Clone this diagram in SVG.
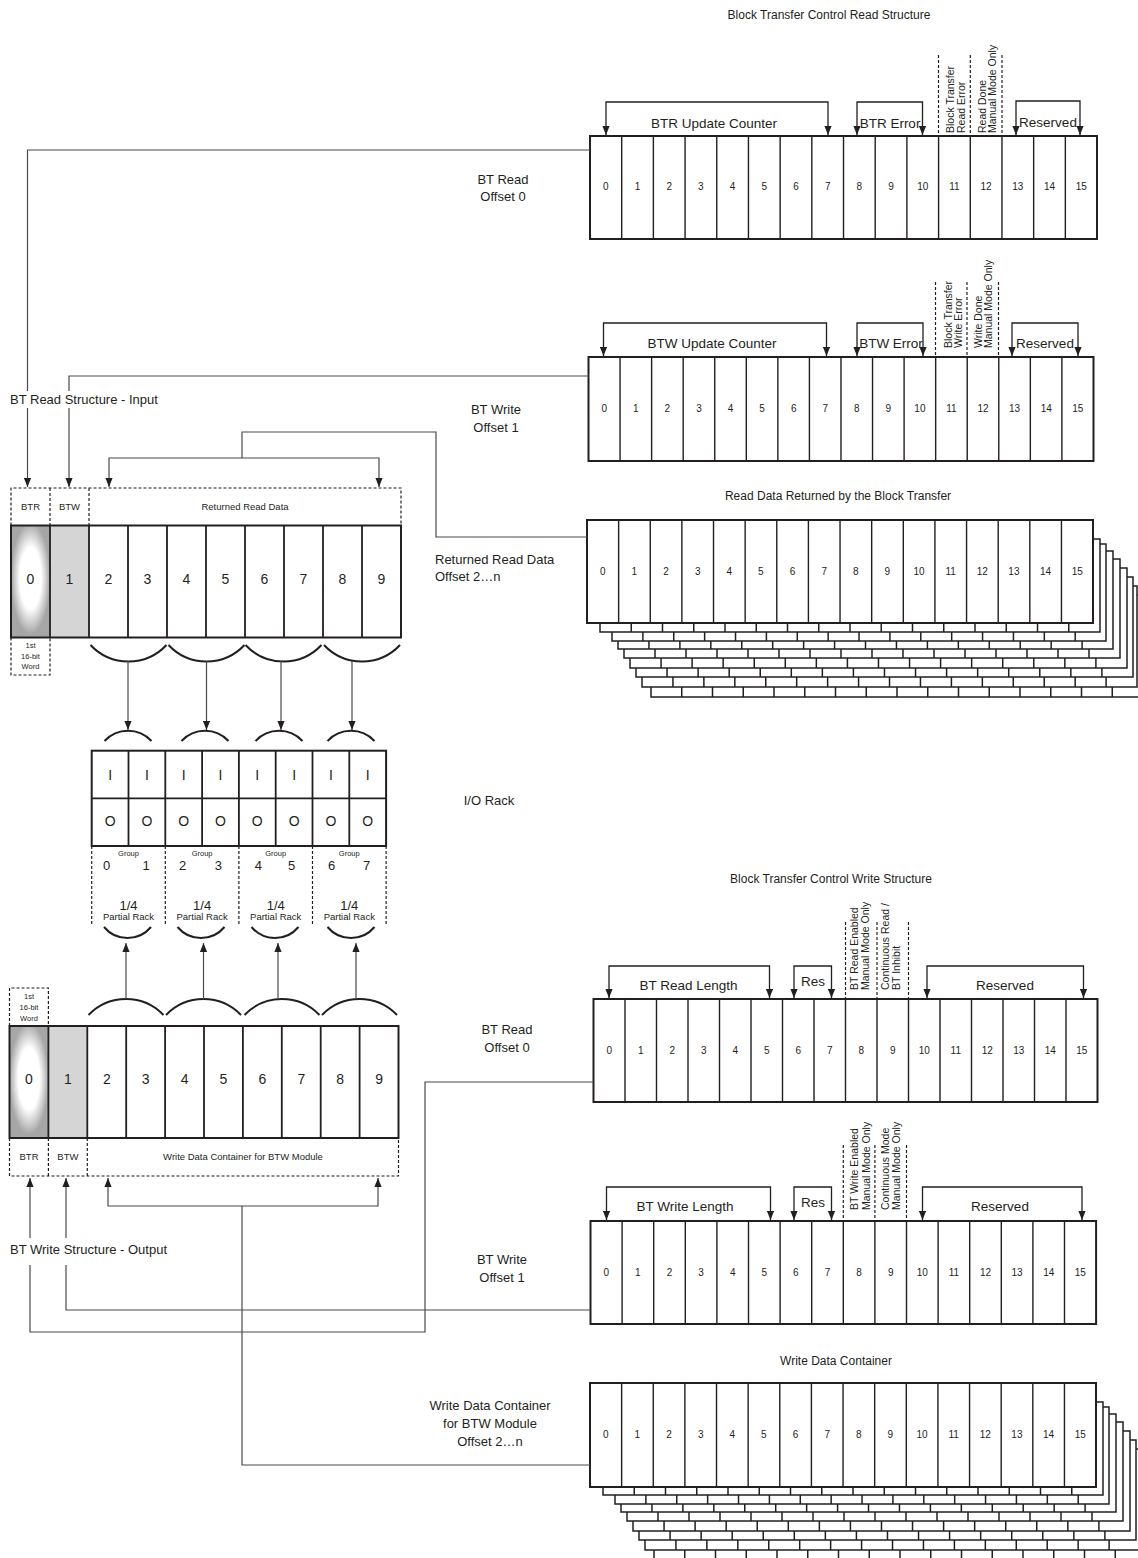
<svg xmlns="http://www.w3.org/2000/svg" width="1138" height="1558" viewBox="0 0 1138 1558">
<defs>
<style>
text{font-family:"Liberation Sans",Arial,sans-serif;fill:#231f20}
.reg{fill:#fff;stroke:#231f20;stroke-width:2}
.ro{fill:none;stroke:#231f20;stroke-width:2}
.dv{fill:none;stroke:#231f20;stroke-width:1.4}
.dvl{fill:none;stroke:#231f20;stroke-width:1.8}
.lay{fill:#fff;stroke:#231f20;stroke-width:1.5}
.dot{fill:none;stroke:#231f20;stroke-width:1.2;stroke-dasharray:3 2}
.con{fill:none;stroke:#4a4a4a;stroke-width:1.2}
.brk{fill:none;stroke:#231f20;stroke-width:1.3}
.arc{fill:none;stroke:#231f20;stroke-width:2}
.n10{font-size:10px;text-anchor:middle}
.n14{font-size:14px;text-anchor:middle}
.lbl{font-size:13px}
.mid{text-anchor:middle}
.ttl{font-size:12px;text-anchor:middle}
.bl{font-size:13.5px;text-anchor:middle}
.rot{font-size:10.5px}
.sm{font-size:9.5px;text-anchor:middle}
.xs{font-size:7.5px;text-anchor:middle}
.g13{font-size:13px;text-anchor:middle}
</style>
<marker id="ah" viewBox="0 0 10 8" refX="10" refY="4" markerWidth="9" markerHeight="7.2" markerUnits="userSpaceOnUse" orient="auto-start-reverse"><path d="M0,0L10,4L0,8z" fill="#231f20"/></marker>
<radialGradient id="glow" cx="0.5" cy="0.47" r="0.5"><stop offset="0" stop-color="#fff"/><stop offset="0.55" stop-color="#fff"/><stop offset="1" stop-color="#a6a6a6"/></radialGradient>
</defs>
<rect width="1138" height="1558" fill="#fff"/>

<g id="labels">
<text class="ttl" x="829" y="19">Block Transfer Control Read Structure</text>
<text class="ttl" x="838" y="500">Read Data Returned by the Block Transfer</text>
<text class="ttl" x="831" y="883">Block Transfer Control Write Structure</text>
<text class="ttl" x="836" y="1365">Write Data Container</text>
<text class="lbl mid" x="503" y="184">BT Read</text>
<text class="lbl mid" x="503" y="201">Offset 0</text>
<text class="lbl mid" x="496" y="414">BT Write</text>
<text class="lbl mid" x="496" y="432">Offset 1</text>
<text class="lbl" x="435" y="564">Returned Read Data</text>
<text class="lbl" x="435" y="581">Offset 2…n</text>
<text class="lbl mid" x="489" y="805">I/O Rack</text>
<text class="lbl mid" x="507" y="1034">BT Read</text>
<text class="lbl mid" x="507" y="1052">Offset 0</text>
<text class="lbl mid" x="502" y="1264">BT Write</text>
<text class="lbl mid" x="502" y="1282">Offset 1</text>
<text class="lbl mid" x="490" y="1410">Write Data Container</text>
<text class="lbl mid" x="490" y="1428">for BTW Module</text>
<text class="lbl mid" x="490" y="1446">Offset 2…n</text>
<text class="lbl" x="10" y="404">BT Read Structure - Input</text>
<text class="lbl" x="10" y="1254">BT Write Structure - Output</text>
</g>

<g id="btr-read-register">
<rect class="reg" x="590" y="136" width="507" height="103"/>
<path class="dv" d="M621.69,136v103m31.69,-103v103m31.69,-103v103m31.69,-103v103m31.69,-103v103m31.69,-103v103m31.69,-103v103m31.69,-103v103m31.69,-103v103m31.69,-103v103m31.69,-103v103m31.69,-103v103m31.69,-103v103m31.69,-103v103m31.69,-103v103"/>
<text class="n10" y="190"><tspan x="605.8">0</tspan><tspan x="637.5">1</tspan><tspan x="669.2">2</tspan><tspan x="700.9">3</tspan><tspan x="732.6">4</tspan><tspan x="764.3">5</tspan><tspan x="796">6</tspan><tspan x="827.7">7</tspan><tspan x="859.4">8</tspan><tspan x="891.1">9</tspan><tspan x="922.8">10</tspan><tspan x="954.4">11</tspan><tspan x="986.1">12</tspan><tspan x="1017.8">13</tspan><tspan x="1049.5">14</tspan><tspan x="1081.2">15</tspan></text>
<path class="brk" d="M606,135V102H828V135" marker-start="url(#ah)" marker-end="url(#ah)"/>
<path class="brk" d="M857,135V102H922.5V135" marker-start="url(#ah)" marker-end="url(#ah)"/>
<path class="brk" d="M1016,135V101H1080V135" marker-start="url(#ah)" marker-end="url(#ah)"/>
<text class="bl" x="714" y="128">BTR Update Counter</text>
<text class="bl" x="890" y="128">BTR Error</text>
<text class="bl" x="1048" y="127">Reserved</text>
<path class="dot" d="M938.5,55V136M970.3,55V136M1002,55V136"/>
<text class="rot" transform="translate(954,133) rotate(-90)">Block Transfer</text>
<text class="rot" transform="translate(964.5,133) rotate(-90)">Read Error</text>
<text class="rot" transform="translate(985.5,133) rotate(-90)">Read Done</text>
<text class="rot" transform="translate(996,133) rotate(-90)">Manual Mode Only</text>
</g>

<g id="btw-read-register">
<rect class="reg" x="588.5" y="357" width="505" height="104"/>
<path class="dv" d="M620.06,357v104m31.56,-104v104m31.56,-104v104m31.56,-104v104m31.56,-104v104m31.56,-104v104m31.56,-104v104m31.56,-104v104m31.56,-104v104m31.56,-104v104m31.56,-104v104m31.56,-104v104m31.56,-104v104m31.56,-104v104m31.56,-104v104"/>
<text class="n10" y="411.5"><tspan x="604.3">0</tspan><tspan x="635.8">1</tspan><tspan x="667.4">2</tspan><tspan x="699">3</tspan><tspan x="730.5">4</tspan><tspan x="762.1">5</tspan><tspan x="793.7">6</tspan><tspan x="825.2">7</tspan><tspan x="856.8">8</tspan><tspan x="888.4">9</tspan><tspan x="919.9">10</tspan><tspan x="951.5">11</tspan><tspan x="983">12</tspan><tspan x="1014.6">13</tspan><tspan x="1046.2">14</tspan><tspan x="1077.7">15</tspan></text>
<path class="brk" d="M603.5,356V323H826.5V356" marker-start="url(#ah)" marker-end="url(#ah)"/>
<path class="brk" d="M857,356V323H923V356" marker-start="url(#ah)" marker-end="url(#ah)"/>
<path class="brk" d="M1012,356V323H1078V356" marker-start="url(#ah)" marker-end="url(#ah)"/>
<text class="bl" x="712" y="348">BTW Update Counter</text>
<text class="bl" x="891" y="348">BTW Error</text>
<text class="bl" x="1045" y="348">Reserved</text>
<path class="dot" d="M935.5,282V357M967,282V357M998.5,282V357"/>
<text class="rot" transform="translate(952,348) rotate(-90)">Block Transfer</text>
<text class="rot" transform="translate(962,348) rotate(-90)">Write Error</text>
<text class="rot" transform="translate(982,348) rotate(-90)">Write Done</text>
<text class="rot" transform="translate(992,348) rotate(-90)">Manual Mode Only</text>
</g>

<g id="read-data-stack">
<path class="lay" d="M651,595h492v102h-492z M681.75,595v102m30.75,-102v102m30.75,-102v102m30.75,-102v102m30.75,-102v102m30.75,-102v102m30.75,-102v102m30.75,-102v102m30.75,-102v102m30.75,-102v102m30.75,-102v102m30.75,-102v102m30.75,-102v102m30.75,-102v102m30.75,-102v102"/>
<path class="lay" d="M642,586h495v101h-495z M672.94,586v101m30.94,-101v101m30.94,-101v101m30.94,-101v101m30.94,-101v101m30.94,-101v101m30.94,-101v101m30.94,-101v101m30.94,-101v101m30.94,-101v101m30.94,-101v101m30.94,-101v101m30.94,-101v101m30.94,-101v101m30.94,-101v101"/>
<path class="lay" d="M636,577h497v100h-497z M667.06,577v100m31.06,-100v100m31.06,-100v100m31.06,-100v100m31.06,-100v100m31.06,-100v100m31.06,-100v100m31.06,-100v100m31.06,-100v100m31.06,-100v100m31.06,-100v100m31.06,-100v100m31.06,-100v100m31.06,-100v100m31.06,-100v100"/>
<path class="lay" d="M630,568h497v100h-497z M661.06,568v100m31.06,-100v100m31.06,-100v100m31.06,-100v100m31.06,-100v100m31.06,-100v100m31.06,-100v100m31.06,-100v100m31.06,-100v100m31.06,-100v100m31.06,-100v100m31.06,-100v100m31.06,-100v100m31.06,-100v100m31.06,-100v100"/>
<path class="lay" d="M624,559h496v99h-496z M655,559v99m31,-99v99m31,-99v99m31,-99v99m31,-99v99m31,-99v99m31,-99v99m31,-99v99m31,-99v99m31,-99v99m31,-99v99m31,-99v99m31,-99v99m31,-99v99m31,-99v99"/>
<path class="lay" d="M618,551h495v98h-495z M648.94,551v98m30.94,-98v98m30.94,-98v98m30.94,-98v98m30.94,-98v98m30.94,-98v98m30.94,-98v98m30.94,-98v98m30.94,-98v98m30.94,-98v98m30.94,-98v98m30.94,-98v98m30.94,-98v98m30.94,-98v98m30.94,-98v98"/>
<path class="lay" d="M612,544h494v97h-494z M642.88,544v97m30.88,-97v97m30.88,-97v97m30.88,-97v97m30.88,-97v97m30.88,-97v97m30.88,-97v97m30.88,-97v97m30.88,-97v97m30.88,-97v97m30.88,-97v97m30.88,-97v97m30.88,-97v97m30.88,-97v97m30.88,-97v97"/>
<path class="lay" d="M600,539h500v93h-500z M631.25,539v93m31.25,-93v93m31.25,-93v93m31.25,-93v93m31.25,-93v93m31.25,-93v93m31.25,-93v93m31.25,-93v93m31.25,-93v93m31.25,-93v93m31.25,-93v93m31.25,-93v93m31.25,-93v93m31.25,-93v93m31.25,-93v93"/>
<rect class="reg" x="587" y="520" width="506" height="103"/>
<path class="dv" d="M618.63,520v103m31.63,-103v103m31.63,-103v103m31.63,-103v103m31.63,-103v103m31.63,-103v103m31.63,-103v103m31.63,-103v103m31.63,-103v103m31.63,-103v103m31.63,-103v103m31.63,-103v103m31.63,-103v103m31.63,-103v103m31.63,-103v103"/>
<text class="n10" y="575"><tspan x="602.8">0</tspan><tspan x="634.4">1</tspan><tspan x="666.1">2</tspan><tspan x="697.7">3</tspan><tspan x="729.3">4</tspan><tspan x="760.9">5</tspan><tspan x="792.6">6</tspan><tspan x="824.2">7</tspan><tspan x="855.8">8</tspan><tspan x="887.4">9</tspan><tspan x="919.1">10</tspan><tspan x="950.7">11</tspan><tspan x="982.3">12</tspan><tspan x="1013.9">13</tspan><tspan x="1045.6">14</tspan><tspan x="1077.2">15</tspan></text>
</g>

<g id="bt-read-length-register">
<rect class="reg" x="593.5" y="999" width="504" height="103"/>
<path class="dv" d="M625,999v103m31.5,-103v103m31.5,-103v103m31.5,-103v103m31.5,-103v103m31.5,-103v103m31.5,-103v103m31.5,-103v103m31.5,-103v103m31.5,-103v103m31.5,-103v103m31.5,-103v103m31.5,-103v103m31.5,-103v103m31.5,-103v103"/>
<text class="n10" y="1054"><tspan x="609.3">0</tspan><tspan x="640.8">1</tspan><tspan x="672.3">2</tspan><tspan x="703.8">3</tspan><tspan x="735.3">4</tspan><tspan x="766.8">5</tspan><tspan x="798.3">6</tspan><tspan x="829.8">7</tspan><tspan x="861.3">8</tspan><tspan x="892.8">9</tspan><tspan x="924.3">10</tspan><tspan x="955.8">11</tspan><tspan x="987.3">12</tspan><tspan x="1018.8">13</tspan><tspan x="1050.3">14</tspan><tspan x="1081.8">15</tspan></text>
<path class="brk" d="M609,998V966H769.5V998" marker-start="url(#ah)" marker-end="url(#ah)"/>
<path class="brk" d="M794,998V966H831.5V998" marker-start="url(#ah)" marker-end="url(#ah)"/>
<path class="brk" d="M927,998V966H1083.5V998" marker-start="url(#ah)" marker-end="url(#ah)"/>
<text class="bl" x="688.5" y="990">BT Read Length</text>
<text class="bl" x="813" y="986">Res</text>
<text class="bl" x="1005" y="990">Reserved</text>
<path class="dot" d="M845.5,922V999M877,922V999M908.5,922V999"/>
<text class="rot" transform="translate(857.5,990) rotate(-90)">BT Read Enabled</text>
<text class="rot" transform="translate(868.5,990) rotate(-90)">Manual Mode Only</text>
<text class="rot" transform="translate(889,990) rotate(-90)">Continuous Read /</text>
<text class="rot" transform="translate(900,990) rotate(-90)">BT Inhibit</text>
</g>

<g id="bt-write-length-register">
<rect class="reg" x="590.5" y="1221" width="505.6" height="103"/>
<path class="dv" d="M622.1,1221v103m31.6,-103v103m31.6,-103v103m31.6,-103v103m31.6,-103v103m31.6,-103v103m31.6,-103v103m31.6,-103v103m31.6,-103v103m31.6,-103v103m31.6,-103v103m31.6,-103v103m31.6,-103v103m31.6,-103v103m31.6,-103v103"/>
<text class="n10" y="1276"><tspan x="606.3">0</tspan><tspan x="637.9">1</tspan><tspan x="669.5">2</tspan><tspan x="701.1">3</tspan><tspan x="732.7">4</tspan><tspan x="764.3">5</tspan><tspan x="795.9">6</tspan><tspan x="827.5">7</tspan><tspan x="859.1">8</tspan><tspan x="890.7">9</tspan><tspan x="922.3">10</tspan><tspan x="953.9">11</tspan><tspan x="985.5">12</tspan><tspan x="1017.1">13</tspan><tspan x="1048.7">14</tspan><tspan x="1080.3">15</tspan></text>
<path class="brk" d="M606.5,1220V1187H770.5V1220" marker-start="url(#ah)" marker-end="url(#ah)"/>
<path class="brk" d="M794,1220V1187H831.5V1220" marker-start="url(#ah)" marker-end="url(#ah)"/>
<path class="brk" d="M922.5,1220V1187H1082V1220" marker-start="url(#ah)" marker-end="url(#ah)"/>
<text class="bl" x="685" y="1211">BT Write Length</text>
<text class="bl" x="813" y="1207">Res</text>
<text class="bl" x="1000" y="1211">Reserved</text>
<path class="dot" d="M843.3,1145V1221M874.9,1145V1221M906.5,1145V1221"/>
<text class="rot" transform="translate(858,1210) rotate(-90)">BT Write Enabled</text>
<text class="rot" transform="translate(869.5,1210) rotate(-90)">Manual Mode Only</text>
<text class="rot" transform="translate(889,1210) rotate(-90)">Continuous Mode</text>
<text class="rot" transform="translate(900,1210) rotate(-90)">Manual Mode Only</text>
</g>

<g id="write-data-stack">
<path class="lay" d="M654,1458h492v102h-492z M684.75,1458v102m30.75,-102v102m30.75,-102v102m30.75,-102v102m30.75,-102v102m30.75,-102v102m30.75,-102v102m30.75,-102v102m30.75,-102v102m30.75,-102v102m30.75,-102v102m30.75,-102v102m30.75,-102v102m30.75,-102v102m30.75,-102v102"/>
<path class="lay" d="M645,1449h495v101h-495z M675.94,1449v101m30.94,-101v101m30.94,-101v101m30.94,-101v101m30.94,-101v101m30.94,-101v101m30.94,-101v101m30.94,-101v101m30.94,-101v101m30.94,-101v101m30.94,-101v101m30.94,-101v101m30.94,-101v101m30.94,-101v101m30.94,-101v101"/>
<path class="lay" d="M639,1440h497v100h-497z M670.06,1440v100m31.06,-100v100m31.06,-100v100m31.06,-100v100m31.06,-100v100m31.06,-100v100m31.06,-100v100m31.06,-100v100m31.06,-100v100m31.06,-100v100m31.06,-100v100m31.06,-100v100m31.06,-100v100m31.06,-100v100m31.06,-100v100"/>
<path class="lay" d="M633,1431h497v100h-497z M664.06,1431v100m31.06,-100v100m31.06,-100v100m31.06,-100v100m31.06,-100v100m31.06,-100v100m31.06,-100v100m31.06,-100v100m31.06,-100v100m31.06,-100v100m31.06,-100v100m31.06,-100v100m31.06,-100v100m31.06,-100v100m31.06,-100v100"/>
<path class="lay" d="M627,1422h496v99h-496z M658,1422v99m31,-99v99m31,-99v99m31,-99v99m31,-99v99m31,-99v99m31,-99v99m31,-99v99m31,-99v99m31,-99v99m31,-99v99m31,-99v99m31,-99v99m31,-99v99m31,-99v99"/>
<path class="lay" d="M621,1414h495v98h-495z M651.94,1414v98m30.94,-98v98m30.94,-98v98m30.94,-98v98m30.94,-98v98m30.94,-98v98m30.94,-98v98m30.94,-98v98m30.94,-98v98m30.94,-98v98m30.94,-98v98m30.94,-98v98m30.94,-98v98m30.94,-98v98m30.94,-98v98"/>
<path class="lay" d="M615,1407h494v97h-494z M645.88,1407v97m30.88,-97v97m30.88,-97v97m30.88,-97v97m30.88,-97v97m30.88,-97v97m30.88,-97v97m30.88,-97v97m30.88,-97v97m30.88,-97v97m30.88,-97v97m30.88,-97v97m30.88,-97v97m30.88,-97v97m30.88,-97v97"/>
<path class="lay" d="M603,1402h500v93h-500z M634.25,1402v93m31.25,-93v93m31.25,-93v93m31.25,-93v93m31.25,-93v93m31.25,-93v93m31.25,-93v93m31.25,-93v93m31.25,-93v93m31.25,-93v93m31.25,-93v93m31.25,-93v93m31.25,-93v93m31.25,-93v93m31.25,-93v93"/>
<rect class="reg" x="590" y="1383" width="506" height="104"/>
<path class="dv" d="M621.63,1383v104m31.63,-104v104m31.63,-104v104m31.63,-104v104m31.63,-104v104m31.63,-104v104m31.63,-104v104m31.63,-104v104m31.63,-104v104m31.63,-104v104m31.63,-104v104m31.63,-104v104m31.63,-104v104m31.63,-104v104m31.63,-104v104"/>
<text class="n10" y="1437.5"><tspan x="605.8">0</tspan><tspan x="637.4">1</tspan><tspan x="669.1">2</tspan><tspan x="700.7">3</tspan><tspan x="732.3">4</tspan><tspan x="763.9">5</tspan><tspan x="795.6">6</tspan><tspan x="827.2">7</tspan><tspan x="858.8">8</tspan><tspan x="890.4">9</tspan><tspan x="922.1">10</tspan><tspan x="953.7">11</tspan><tspan x="985.3">12</tspan><tspan x="1016.9">13</tspan><tspan x="1048.6">14</tspan><tspan x="1080.2">15</tspan></text>
</g>

<g id="bt-read-structure">
<rect x="11" y="525.5" width="39" height="112" fill="url(#glow)"/>
<rect x="50" y="525.5" width="39" height="112" fill="#d5d5d5"/>
<rect class="ro" x="11" y="525.5" width="390" height="112"/>
<path class="dvl" d="M50,525.5V637.5M89,525.5V637.5M128,525.5V637.5M167,525.5V637.5M206,525.5V637.5M245,525.5V637.5M284,525.5V637.5M323,525.5V637.5M362,525.5V637.5"/>
<text class="n14" y="584"><tspan x="30.5">0</tspan><tspan x="69.5">1</tspan><tspan x="108.5">2</tspan><tspan x="147.5">3</tspan><tspan x="186.5">4</tspan><tspan x="225.5">5</tspan><tspan x="264.5">6</tspan><tspan x="303.5">7</tspan><tspan x="342.5">8</tspan><tspan x="381.5">9</tspan></text>
<path class="dot" d="M11,525.5V488H401V525.5M50,488V525.5M89,488V525.5M11,637.5V675H50V637.5"/>
<text class="sm" x="30.5" y="509.5">BTR</text>
<text class="sm" x="69.5" y="509.5">BTW</text>
<text class="sm" x="245" y="509.5">Returned Read Data</text>
<text class="xs" x="30.5" y="647.5">1st</text>
<text class="xs" x="30.5" y="658.5">16-bit</text>
<text class="xs" x="30.5" y="669">Word</text>
<path class="arc" d="M90.5,645A52,52 0 0,0 166.5,645M168.5,645A52,52 0 0,0 244.5,645M245.5,645A52,52 0 0,0 321.5,645M324,645A52,52 0 0,0 400,645"/>
</g>

<g id="io-rack">
<path class="arc" d="M104.5,741A32,32 0 0,1 151.5,741M181.5,741A32,32 0 0,1 228.5,741M255.5,741A32,32 0 0,1 302.5,741M327.5,741A32,32 0 0,1 374.5,741"/>
<rect class="reg" x="91.7" y="750.7" width="294.4" height="95.3"/>
<path class="dvl" d="M91.7,798.3H386.1M128.5,750.7V846M165.3,750.7V846M202.1,750.7V846M238.9,750.7V846M275.7,750.7V846M312.5,750.7V846M349.3,750.7V846"/>
<text class="n14" y="780"><tspan x="110.1">I</tspan><tspan x="146.9">I</tspan><tspan x="183.7">I</tspan><tspan x="220.5">I</tspan><tspan x="257.3">I</tspan><tspan x="294.1">I</tspan><tspan x="330.9">I</tspan><tspan x="367.7">I</tspan></text>
<text class="n14" y="826"><tspan x="110.1">O</tspan><tspan x="146.9">O</tspan><tspan x="183.7">O</tspan><tspan x="220.5">O</tspan><tspan x="257.3">O</tspan><tspan x="294.1">O</tspan><tspan x="330.9">O</tspan><tspan x="367.7">O</tspan></text>
<path class="dot" d="M91.7,846V925M165.3,846V925M238.9,846V925M312.5,846V925M386.1,846V925"/>
<text class="xs" y="856"><tspan x="128.5">Group</tspan><tspan x="202.1">Group</tspan><tspan x="275.7">Group</tspan><tspan x="349.3">Group</tspan></text>
<text class="g13" y="870"><tspan x="106.7">0</tspan><tspan x="146">1</tspan><tspan x="182.7">2</tspan><tspan x="218.3">3</tspan><tspan x="258.3">4</tspan><tspan x="291.7">5</tspan><tspan x="331.7">6</tspan><tspan x="366.7">7</tspan></text>
<text class="g13" y="910"><tspan x="128.5">1/4</tspan><tspan x="202.1">1/4</tspan><tspan x="275.7">1/4</tspan><tspan x="349.3">1/4</tspan></text>
<text class="sm" y="919.5"><tspan x="128.5">Partial Rack</tspan><tspan x="202.1">Partial Rack</tspan><tspan x="275.7">Partial Rack</tspan><tspan x="349.3">Partial Rack</tspan></text>
<path class="arc" d="M104,927A30.6,30.6 0 0,0 151,927M177.5,927A30.6,30.6 0 0,0 224.5,927M251.5,927A30.6,30.6 0 0,0 298.5,927M327.5,927A30.6,30.6 0 0,0 374.5,927"/>
</g>

<g id="bt-write-structure">
<path class="arc" d="M88.5,1015A52,52 0 0,1 163.5,1015M166,1015A52,52 0 0,1 241,1015M244.5,1015A52,52 0 0,1 319.5,1015M322,1015A52,52 0 0,1 397,1015"/>
<rect x="9.5" y="1026" width="38.9" height="112" fill="url(#glow)"/>
<rect x="48.4" y="1026" width="38.9" height="112" fill="#d5d5d5"/>
<rect class="ro" x="9.5" y="1026" width="389" height="112"/>
<path class="dvl" d="M48.4,1026V1138M87.3,1026V1138M126.2,1026V1138M165.1,1026V1138M204,1026V1138M242.9,1026V1138M281.8,1026V1138M320.7,1026V1138M359.6,1026V1138"/>
<text class="n14" y="1084"><tspan x="29">0</tspan><tspan x="67.9">1</tspan><tspan x="106.8">2</tspan><tspan x="145.7">3</tspan><tspan x="184.6">4</tspan><tspan x="223.5">5</tspan><tspan x="262.4">6</tspan><tspan x="301.3">7</tspan><tspan x="340.2">8</tspan><tspan x="379.1">9</tspan></text>
<path class="dot" d="M9.5,1026V988H48.4V1026M9.5,1138V1176H398.5V1138M48.4,1138V1176M87.3,1138V1176"/>
<text class="xs" x="29" y="999">1st</text>
<text class="xs" x="29" y="1010">16-bit</text>
<text class="xs" x="29" y="1021">Word</text>
<text class="sm" x="29" y="1160">BTR</text>
<text class="sm" x="67.9" y="1160">BTW</text>
<text class="sm" x="243" y="1160">Write Data Container for BTW Module</text>
</g>

<g id="connectors">
<path class="con" d="M590,150H27.5V391"/>
<path class="con" d="M27.5,408V487" marker-end="url(#ah)"/>
<path class="con" d="M588.5,376H69V391"/>
<path class="con" d="M69,408V487" marker-end="url(#ah)"/>
<path class="con" d="M587,537H436V432H242V458"/>
<path class="con" d="M109,487V458H379V487" marker-start="url(#ah)" marker-end="url(#ah)"/>
<path class="con" d="M128,661V730" marker-end="url(#ah)"/>
<path class="con" d="M206.5,661V730" marker-end="url(#ah)"/>
<path class="con" d="M281,661V730" marker-end="url(#ah)"/>
<path class="con" d="M352,661V730" marker-end="url(#ah)"/>
<path class="con" d="M126,999V943" marker-end="url(#ah)"/>
<path class="con" d="M203.5,999V943" marker-end="url(#ah)"/>
<path class="con" d="M278,999V943" marker-end="url(#ah)"/>
<path class="con" d="M356,999V943" marker-end="url(#ah)"/>
<path class="con" d="M593.5,1082H425V1332H30V1265"/>
<path class="con" d="M30,1238V1178" marker-end="url(#ah)"/>
<path class="con" d="M590.5,1310H66V1265"/>
<path class="con" d="M66,1238V1178" marker-end="url(#ah)"/>
<path class="con" d="M590,1465H242V1206"/>
<path class="con" d="M108,1178V1206H378V1178" marker-start="url(#ah)" marker-end="url(#ah)"/>
</g>
</svg>
